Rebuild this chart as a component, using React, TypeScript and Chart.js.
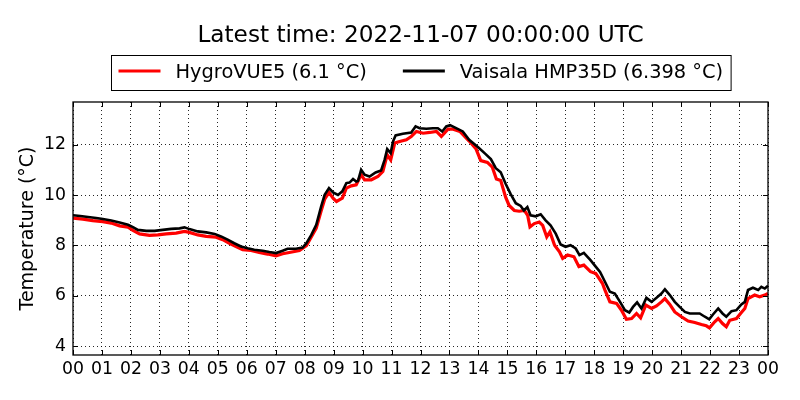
import React, { useEffect, useRef } from "react";
import { Chart, registerables } from "chart.js";

Chart.register(...registerables);

const titleText = "Latest time: 2022-11-07 00:00:00 UTC";
const yAxisLabel = "Temperature (°C)";
const seriesNames = ["HygroVUE5 (6.1 °C)", "Vaisala HMP35D (6.398 °C)"];
const seriesColors = ["#ff0000", "#000000"];

const hourTicks = [0, 1, 2, 3, 4, 5, 6, 7, 8, 9, 10, 11, 12, 13, 14, 15, 16, 17, 18, 19, 20, 21, 22, 23, 24];
const hourLabels = ["00", "01", "02", "03", "04", "05", "06", "07", "08", "09", "10", "11", "12", "13", "14", "15", "16", "17", "18", "19", "20", "21", "22", "23", "00"];
const yTicks = [4, 6, 8, 10, 12];
const yMin = 3.65;
const yMax = 13.7;

const hygroHours = [
  0.0, 0.34, 0.68, 1.03, 1.32, 1.61, 1.9, 2.07, 2.3, 2.64, 2.93, 3.22, 3.56, 3.85, 4.02, 4.31, 4.6, 4.94, 5.17, 5.4,
  5.63, 5.86, 6.15, 6.43, 6.72, 7.01, 7.24, 7.47, 7.82, 8.06, 8.4, 8.57, 8.69, 8.84, 8.98, 9.1, 9.3, 9.44, 9.61, 9.78,
  9.95, 10.07, 10.3, 10.53, 10.7, 10.85, 10.97, 11.11, 11.28, 11.51, 11.68, 11.86, 12.09, 12.32, 12.55, 12.72, 12.95,
  13.13, 13.36, 13.68, 13.92, 14.08, 14.31, 14.48, 14.62, 14.77, 14.94, 15.06, 15.24, 15.41, 15.59, 15.7, 15.78, 15.93,
  16.1, 16.22, 16.36, 16.47, 16.63, 16.8, 16.91, 17.08, 17.3, 17.47, 17.64, 17.87, 18.05, 18.28, 18.37, 18.54, 18.77,
  18.94, 19.11, 19.29, 19.46, 19.6, 19.78, 19.98, 20.15, 20.32, 20.44, 20.61, 20.78, 21.01, 21.24, 21.47, 21.7, 21.87,
  21.98, 22.16, 22.28, 22.43, 22.56, 22.68, 22.91, 23.08, 23.2, 23.31, 23.54, 23.71, 23.89, 24.0,
];
const hygroTemps = [
  9.09, 9.05, 8.99, 8.95, 8.89, 8.78, 8.73, 8.6, 8.46, 8.4, 8.42, 8.46, 8.49, 8.56, 8.52, 8.42, 8.36, 8.33, 8.23, 8.09,
  7.96, 7.83, 7.8, 7.72, 7.66, 7.59, 7.67, 7.72, 7.8, 7.99, 8.69, 9.38, 9.84, 10.11, 9.88, 9.75, 9.88, 10.28, 10.37, 10.41,
  10.81, 10.61, 10.61, 10.74, 10.94, 11.6, 11.4, 12.07, 12.13, 12.2, 12.33, 12.53, 12.46, 12.49, 12.53, 12.33, 12.62,
  12.62, 12.53, 12.15, 11.83, 11.37, 11.3, 11.11, 10.64, 10.58, 9.92, 9.59, 9.39, 9.36, 9.39, 9.2, 8.74, 8.87,
  8.93, 8.8, 8.34, 8.54, 8.01, 7.75, 7.49, 7.62, 7.55, 7.16, 7.22, 6.96, 6.89, 6.5, 6.23, 5.76, 5.7,
  5.43, 5.07, 5.1, 5.3, 5.13, 5.63, 5.5, 5.6, 5.76, 5.89, 5.66, 5.36, 5.17, 5.0, 4.94, 4.86, 4.81,
  4.73, 4.97, 5.1, 4.9, 4.77, 5.03, 5.1, 5.34, 5.5, 5.89, 6.03, 5.96, 6.03, 6.1,
];

const vaisalaHours = [
  0.0, 0.25, 0.52, 0.8, 1.03, 1.32, 1.61, 1.9, 2.07, 2.24, 2.53, 2.82, 3.1, 3.39, 3.68, 3.85, 4.02, 4.31, 4.6, 4.89,
  5.11, 5.34, 5.57, 5.8, 6.03, 6.26, 6.55, 6.78, 7.01, 7.24, 7.41, 7.7, 7.93, 8.06, 8.23, 8.4, 8.57, 8.69, 8.84, 8.98,
  9.15, 9.3, 9.44, 9.55, 9.67, 9.78, 9.84, 9.95, 10.07, 10.24, 10.45, 10.64, 10.76, 10.85, 10.97, 11.05, 11.14, 11.39,
  11.68, 11.83, 11.97, 12.2, 12.43, 12.6, 12.75, 12.89, 13.02, 13.23, 13.46, 13.68, 14.0, 14.25, 14.43, 14.6, 14.77,
  14.94, 15.11, 15.29, 15.46, 15.57, 15.69, 15.8, 15.98, 16.15, 16.32, 16.49, 16.67, 16.84, 17.01, 17.18, 17.36, 17.49,
  17.64, 17.87, 18.05, 18.2, 18.37, 18.54, 18.71, 18.89, 19.06, 19.21, 19.34, 19.48, 19.63, 19.8, 19.98, 20.15, 20.32,
  20.44, 20.61, 20.78, 20.95, 21.13, 21.3, 21.47, 21.64, 21.82, 21.97, 22.1, 22.28, 22.43, 22.56, 22.74, 22.91, 23.08,
  23.2, 23.31, 23.48, 23.66, 23.77, 23.89, 24.0,
];
const vaisalaTemps = [
  9.2, 9.17, 9.13, 9.09, 9.05, 8.99, 8.91, 8.82, 8.73, 8.62, 8.58, 8.58, 8.62, 8.66, 8.68, 8.72, 8.65, 8.56, 8.52, 8.46,
  8.36, 8.23, 8.09, 7.96, 7.89, 7.83, 7.79, 7.74, 7.7, 7.79, 7.87, 7.87, 7.92, 8.09, 8.42, 8.82, 9.55, 10.01, 10.28, 10.11,
  10.01, 10.15, 10.48, 10.5, 10.64, 10.54, 10.56, 11.01, 10.81, 10.74, 10.9, 10.98, 11.4, 11.83, 11.67, 12.13, 12.37, 12.44,
  12.49, 12.73, 12.66, 12.64, 12.66, 12.66, 12.53, 12.73, 12.78, 12.66, 12.53, 12.2, 11.89, 11.63, 11.43, 11.07, 10.91,
  10.45, 10.05, 9.68, 9.57, 9.39, 9.53, 9.2, 9.16, 9.24, 9.0, 8.8, 8.47, 8.04, 7.95, 8.01, 7.88, 7.62,
  7.71, 7.42, 7.16, 6.95, 6.56, 6.16, 6.09, 5.76, 5.43, 5.34, 5.56, 5.74, 5.5, 5.92, 5.76, 5.92, 6.09,
  6.26, 6.03, 5.76, 5.56, 5.36, 5.3, 5.3, 5.3, 5.17, 5.07, 5.26, 5.5, 5.3, 5.17, 5.39, 5.43, 5.66,
  5.76, 6.23, 6.32, 6.23, 6.36, 6.29, 6.4,
];

const FONT = '"DejaVu Sans", sans-serif';

const decorPlugin = {
  id: "decor",
  afterDatasetsDraw(chart: any) {
    const { ctx, chartArea: a, scales } = chart;
    ctx.save();
    ctx.setLineDash([]);
    ctx.strokeStyle = "#000";
    ctx.lineWidth = 1;
    const tl = 5;
    ctx.beginPath();
    scales.x.ticks.forEach((t: any) => {
      const px = Math.round(scales.x.getPixelForValue(t.value)) + 0.5;
      ctx.moveTo(px, a.bottom);
      ctx.lineTo(px, a.bottom - tl);
      ctx.moveTo(px, a.top);
      ctx.lineTo(px, a.top + tl);
    });
    scales.y.ticks.forEach((t: any) => {
      const py = Math.round(scales.y.getPixelForValue(t.value)) + 0.5;
      ctx.moveTo(a.left, py);
      ctx.lineTo(a.left + tl, py);
      ctx.moveTo(a.right, py);
      ctx.lineTo(a.right - tl, py);
    });
    ctx.stroke();
    ctx.lineWidth = 1.3;
    ctx.strokeRect(a.left, a.top, a.right - a.left, a.bottom - a.top);
    ctx.restore();
  },
  afterDraw(chart: any) {
    const { ctx, chartArea: a } = chart;
    const cx = (a.left + a.right) / 2;
    const cy = (a.top + a.bottom) / 2;
    ctx.save();
    ctx.fillStyle = "#000";
    // title
    ctx.font = `23.2px ${FONT}`;
    ctx.textAlign = "center";
    ctx.textBaseline = "alphabetic";
    ctx.fillText(titleText, cx, 41.5);

    // legend
    ctx.font = `19.4px ${FONT}`;
    const w1 = ctx.measureText(seriesNames[0]).width;
    const w2 = ctx.measureText(seriesNames[1]).width;
    const padL = 7, sample = 42, textGap = 15, itemGap = 36, padR = 8;
    const total = padL + sample + textGap + w1 + itemGap + sample + textGap + w2 + padR;
    const bx = Math.round(cx - total / 2) + 0.5;
    const by = 55.5;
    const bh = 35;
    ctx.fillStyle = "#fff";
    ctx.fillRect(bx, by, total, bh);
    ctx.strokeStyle = "#000";
    ctx.lineWidth = 1;
    ctx.strokeRect(bx, by, total, bh);
    const ly = 71;
    const s1 = bx + padL;
    const t1 = s1 + sample + textGap;
    const s2 = t1 + w1 + itemGap;
    const t2 = s2 + sample + textGap;
    ctx.lineWidth = 3;
    ctx.strokeStyle = seriesColors[0];
    ctx.beginPath();
    ctx.moveTo(s1, ly);
    ctx.lineTo(s1 + sample, ly);
    ctx.stroke();
    ctx.strokeStyle = seriesColors[1];
    ctx.beginPath();
    ctx.moveTo(s2, ly);
    ctx.lineTo(s2 + sample, ly);
    ctx.stroke();
    ctx.fillStyle = "#000";
    ctx.textAlign = "left";
    ctx.fillText(seriesNames[0], t1, 78.3);
    ctx.fillText(seriesNames[1], t2, 78.3);

    // y-axis label
    ctx.translate(28.5, cy);
    ctx.rotate(-Math.PI / 2);
    ctx.textAlign = "center";
    ctx.textBaseline = "middle";
    ctx.font = `19px ${FONT}`;
    ctx.fillText(yAxisLabel, 0, 0);
    ctx.restore();
  },
};

export default function App() {
  const canvasRef = useRef<HTMLCanvasElement | null>(null);

  useEffect(() => {
    if (!canvasRef.current) return;
    const chart = new Chart(canvasRef.current, {
      type: "line",
      data: {
        datasets: [
          {
            label: seriesNames[0],
            data: hygroHours.map((h, i) => ({ x: h, y: hygroTemps[i] })),
            borderColor: seriesColors[0],
            backgroundColor: seriesColors[0],
            borderWidth: 3.2,
            pointRadius: 0,
            tension: 0,
            order: 1,
          },
          {
            label: seriesNames[1],
            data: vaisalaHours.map((h, i) => ({ x: h, y: vaisalaTemps[i] })),
            borderColor: seriesColors[1],
            backgroundColor: seriesColors[1],
            borderWidth: 2.6,
            pointRadius: 0,
            tension: 0,
            order: 0,
          },
        ],
      },
      options: {
        animation: false,
        responsive: false,
        devicePixelRatio: 1,
        layout: { padding: { left: 0, right: 32, top: 102, bottom: 0 } },
        plugins: {
          legend: { display: false },
          title: { display: false },
          tooltip: { enabled: false },
        },
        scales: {
          x: {
            type: "linear",
            min: 0,
            max: 24,
            afterBuildTicks: (scale: any) => {
              scale.ticks = hourTicks.map((v) => ({ value: v }));
            },
            afterFit: (scale: any) => {
              scale.height = 45;
            },
            ticks: {
              autoSkip: false,
              maxRotation: 0,
              minRotation: 0,
              padding: 4,
              color: "#000",
              font: { family: FONT, size: 17.3 },
              callback: (v: any) => hourLabels[hourTicks.indexOf(Number(v))] ?? "",
            },
            grid: { color: "rgba(0,0,0,0.85)", lineWidth: 1, drawTicks: false },
            border: { display: false, dash: [1, 3] },
          },
          y: {
            type: "linear",
            min: yMin,
            max: yMax,
            afterBuildTicks: (scale: any) => {
              scale.ticks = yTicks.map((v) => ({ value: v }));
            },
            afterFit: (scale: any) => {
              scale.width = 73;
            },
            ticks: {
              padding: 7,
              color: "#000",
              font: { family: FONT, size: 17.3 },
              callback: (v: any) => String(v),
            },
            grid: { color: "rgba(0,0,0,0.85)", lineWidth: 1, drawTicks: false },
            border: { display: false, dash: [1, 3] },
          },
        },
      },
      plugins: [decorPlugin],
    });
    return () => chart.destroy();
  }, []);

  return (
    <div style={{ position: "absolute", left: 0, top: 0, width: 800, height: 400, background: "#fff" }}>
      <canvas ref={canvasRef} width={800} height={400} style={{ width: 800, height: 400, display: "block" }} />
    </div>
  );
}
